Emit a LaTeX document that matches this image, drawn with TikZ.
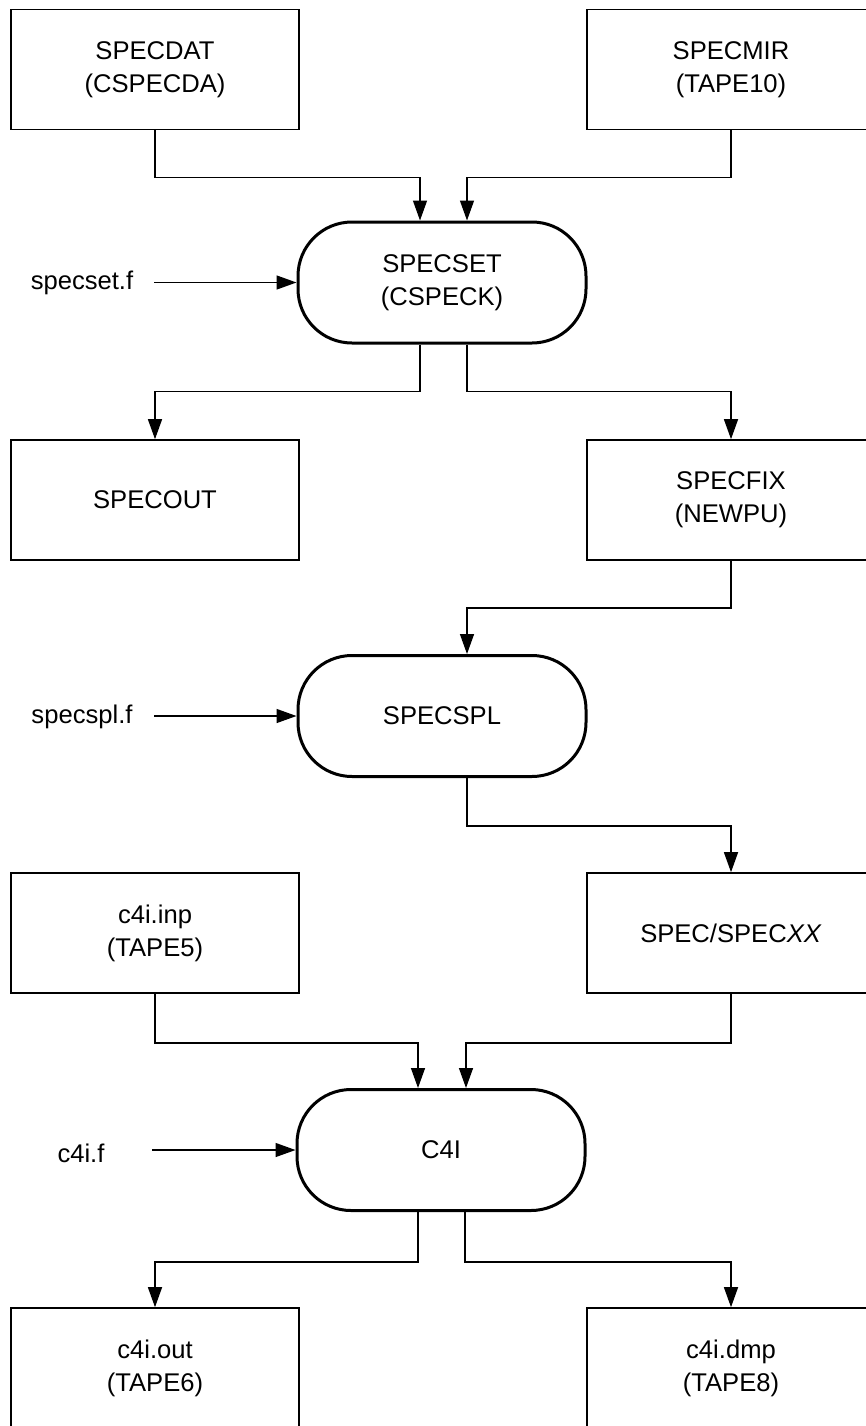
\documentclass[tikz,border=0pt]{standalone}
\usepackage{fontspec}
\setmainfont{Liberation Sans}
\usetikzlibrary{arrows.meta}
\begin{document}
\begin{tikzpicture}[x=1pt,y=-1pt,
  every node/.style={font=\fontsize{25.6}{33}\selectfont, align=center},
  filebox/.style={draw, line width=1.6pt, minimum width=288pt, minimum height=120pt, inner sep=0pt},
  prog/.style={draw, line width=3pt, rounded corners=54pt, minimum width=288pt, minimum height=121pt, inner sep=0pt},
  lbl/.style={inner sep=0pt},
  arr/.style={line width=1.4pt, -{Triangle[length=20pt,width=14pt]}}
]
\fill[white] (0,0) rectangle (866,1426);
\useasboundingbox (0,0) rectangle (866,1426);
\clip (0,0) rectangle (866,1426);

% row 1
\node[filebox] (specdat) at (155,69.5) {SPECDAT\\(CSPECDA)};
\node[filebox] (specmir) at (731,69.5) {SPECMIR\\(TAPE10)};
\node[prog] (specset) at (442,282.5) {SPECSET\\(CSPECK)};
\node[lbl] (fset) at (82,283) {specset.f};
\coordinate (sset) at (154,282.5);

% row 2
\node[filebox] (specout) at (155,500) {SPECOUT};
\node[filebox] (specfix) at (731,500) {SPECFIX\\(NEWPU)};
\node[prog] (specspl) at (442,716) {SPECSPL};
\node[lbl] (fspl) at (82,717) {specspl.f};
\coordinate (sspl) at (154,716);

% row 3
\node[filebox] (c4iinp) at (155,933) {c4i.inp\\(TAPE5)};
\node[filebox] (specxx) at (731,933) {SPEC/SPEC\textit{XX}};
\node[prog] (c4i) at (441,1150) {C4I};
\node[lbl] (fc4i) at (81,1153) {c4i.f};
\coordinate (sc4i) at (152,1150);

% row 4
\node[filebox] (c4iout) at (155,1368) {c4i.out\\(TAPE6)};
\node[filebox] (c4idmp) at (731,1368) {c4i.dmp\\(TAPE8)};

% connectors
\draw[arr] (specdat.south) -- ++(0,47) -| ([xshift=-22pt]specset.north);
\draw[arr] (specmir.south) -- ++(0,47) -| ([xshift=25pt]specset.north);
\draw[arr] (sset) -- (specset.west);
\draw[arr] ([xshift=-22pt]specset.south) -- ++(0,47) -| (specout.north);
\draw[arr] ([xshift=25pt]specset.south) -- ++(0,47) -| (specfix.north);
\draw[arr] (specfix.south) -- ++(0,47) -| ([xshift=25pt]specspl.north);
\draw[arr] (sspl) -- (specspl.west);
\draw[arr] ([xshift=25pt]specspl.south) -- ++(0,48) -| (specxx.north);
\draw[arr] (c4iinp.south) -- ++(0,49) -| ([xshift=-23pt]c4i.north);
\draw[arr] (specxx.south) -- ++(0,49) -| ([xshift=25pt]c4i.north);
\draw[arr] (sc4i) -- (c4i.west);
\draw[arr] ([xshift=-23pt]c4i.south) -- ++(0,50) -| (c4iout.north);
\draw[arr] ([xshift=24pt]c4i.south) -- ++(0,50) -| (c4idmp.north);
\end{tikzpicture}
\end{document}
